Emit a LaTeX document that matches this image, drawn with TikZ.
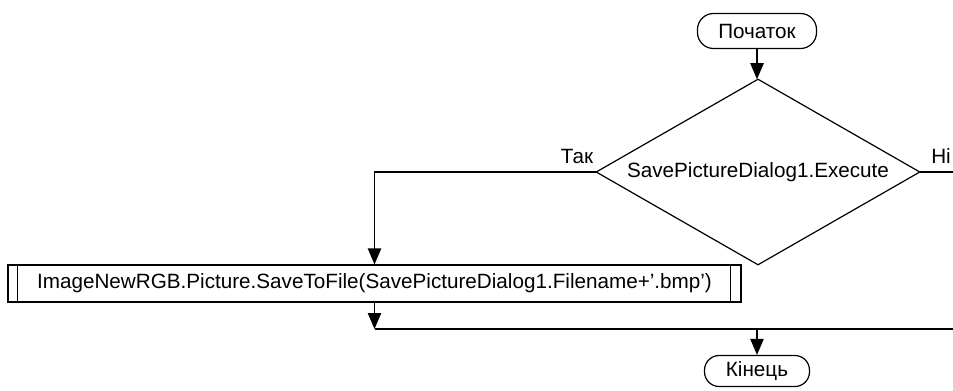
\documentclass[tikz,border=0pt]{standalone}
\usepackage{fontspec}
\setmainfont{Liberation Sans}
\usetikzlibrary{arrows.meta}
\newcommand{\sq}{\char39\relax}
\begin{document}
\begin{tikzpicture}[x=0.75pt,y=-0.75pt,
  every node/.style={font=\fontsize{15.5}{18}\selectfont, inner sep=0pt},
  line/.style={draw=black, line width=0.9pt},
  arr/.style={line, -{Triangle[length=12pt,width=10pt]}},
  terminal/.style={line, rectangle, rounded corners=12pt},
  decision/.style={rectangle},
  procbox/.style={line, rectangle}]
\useasboundingbox (0,0) rectangle (953,390);
\clip (0,0) rectangle (953,390);

% blocks
\node[terminal, minimum width=89.25pt, minimum height=26.25pt] (start) at (757,31) {Початок};
\node[decision, minimum width=242.25pt, minimum height=138.75pt] (dec) at (758,172) {SavePictureDialog1.Execute};
\draw[line] (dec.north) -- (dec.east) -- (dec.south) -- (dec.west) -- cycle;
\node[procbox, minimum width=549.75pt, minimum height=27.75pt] (proc) at (374.5,283.5)
  {ImageNewRGB.Picture.SaveToFile(SavePictureDialog1.Filename+\sq.bmp\sq)};
\node[terminal, minimum width=78.75pt, minimum height=23.25pt, rounded corners=11pt] (end) at (757,371) {Кінець};

% side bars of the predefined-process box
\draw[line] ([xshift=7.5pt]proc.north west) -- ([xshift=7.5pt]proc.south west);
\draw[line] ([xshift=-8.25pt]proc.north east) -- ([xshift=-8.25pt]proc.south east);

% branch labels
\node (yes) at (577,156) {Так};
\node (no) at (941,156) {Ні};

% helper points
\coordinate (jl) at (374.5,329);
\coordinate (join) at (757,329);
\coordinate (rv) at (960,172);
\coordinate (jr) at (960,329);

% connectors
\draw[arr] (start.south) -- (start.south |- dec.north);
\draw[arr] (dec.west) -| (proc.north);
\draw[arr] (proc.south) -- (jl);
\draw[line] (jl) -- (jr);
\draw[line] (dec.east) -- (rv) -- (jr);
\draw[arr] (join) -- (end.north);
\end{tikzpicture}
\end{document}
